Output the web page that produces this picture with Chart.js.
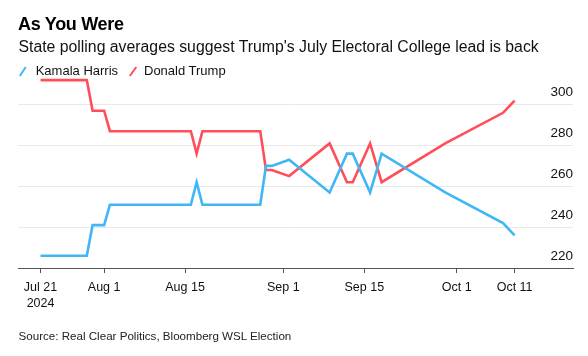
<!DOCTYPE html>
<html><head><meta charset="utf-8">
<script src="https://cdn.jsdelivr.net/npm/chart.js@4.4.1/dist/chart.umd.min.js"></script>
<style>
html,body{margin:0;padding:0;background:#fff;}
body{width:588px;height:356px;position:relative;overflow:hidden;font-family:"Liberation Sans",Arial,sans-serif;color:#111;}
.t{position:absolute;white-space:nowrap;line-height:1;}
#title{left:18px;top:14.8px;font-weight:bold;font-size:18px;letter-spacing:-0.3px;color:#000;}
#subtitle{left:18.5px;top:38.9px;font-size:15.8px;}
.lg{top:64px;font-size:13px;}
#source{left:18.5px;top:330px;font-size:11.6px;color:#222;}
svg.sw{position:absolute;top:66px;}
canvas{position:absolute;left:0;top:0;}
</style>
</head><body>
<canvas id="c" width="588" height="356"></canvas>
<div class="t" id="title">As You Were</div>
<div class="t" id="subtitle">State polling averages suggest Trump's July Electoral College lead is back</div>
<svg class="sw" style="left:19px" width="8" height="11"><line x1="0.8" y1="10" x2="6.8" y2="1" stroke="#41b6f6" stroke-width="2"/></svg>
<div class="t lg" style="left:35.7px">Kamala Harris</div>
<svg class="sw" style="left:128.5px" width="9" height="11"><line x1="0.8" y1="10" x2="7.3" y2="1" stroke="#ff4d5a" stroke-width="2"/></svg>
<div class="t lg" style="left:144px">Donald Trump</div>
<div class="t" id="source">Source: Real Clear Politics, Bloomberg WSL Election</div>
<script>
// days since Jul 21, 2024
const days   = [0, 8, 9, 11, 12, 26, 27, 28, 38, 39, 40, 43, 50, 53, 54, 57, 59, 70, 80, 82];
const harris = [226, 226, 241, 241, 251, 251, 262, 251, 251, 270, 270, 273, 257, 276, 276, 257, 276, 257, 242, 236];
const trump  = [312, 312, 297, 297, 287, 287, 276, 287, 287, 268, 268, 265, 281, 262, 262, 281, 262, 281, 296, 302];
const xTickDays   = [0, 11, 25, 42, 56, 72, 82];
const xTickLabels = [["Jul 21", "2024"], "Aug 1", "Aug 15", "Sep 1", "Sep 15", "Oct 1", "Oct 11"];
const yTicks = [220, 240, 260, 280, 300];

const BLUE = '#41b6f6', RED = '#ff4d5a';
const toPts = arr => days.map((d, i) => ({x: d, y: arr[i]}));

new Chart(document.getElementById('c'), {
  type: 'line',
  data: {
    datasets: [
      {label: 'Kamala Harris', data: toPts(harris), borderColor: BLUE, borderWidth: 2.6, pointRadius: 0, tension: 0, fill: false},
      {label: 'Donald Trump', data: toPts(trump), borderColor: RED, borderWidth: 2.6, pointRadius: 0, tension: 0, fill: false}
    ]
  },
  options: {
    responsive: false,
    animation: false,
    events: [],
    layout: {padding: {top: 74, left: 18, right: 15, bottom: 0}},
    plugins: {legend: {display: false}, tooltip: {enabled: false}, title: {display: false}},
    scales: {
      x: {
        type: 'linear', position: 'bottom', min: -3.9, max: 92.1,
        afterBuildTicks: s => { s.ticks = xTickDays.map(v => ({value: v})); },
        afterFit: s => { s.height = 88; },
        grid: {display: true, drawOnChartArea: false, drawTicks: true, tickLength: 5, color: '#555', lineWidth: 1},
        border: {display: true, color: '#555', width: 1},
        ticks: {
          autoSkip: false, maxRotation: 0, padding: 6, color: '#111',
          font: {family: '"Liberation Sans", Arial, sans-serif', size: 12.5, lineHeight: 1.3},
          callback: v => xTickLabels[xTickDays.indexOf(v)]
        }
      },
      y: {
        type: 'linear', position: 'right', min: 220, max: 315,
        afterBuildTicks: s => { s.ticks = yTicks.map(v => ({value: v})); },
        afterFit: s => { s.width = 0; },
        grid: {color: '#e9e9e9', lineWidth: 1, drawTicks: false},
        border: {display: false},
        ticks: {
          mirror: true, padding: 0, labelOffset: -12, color: '#111',
          font: {family: '"Liberation Sans", Arial, sans-serif', size: 13.5}
        }
      }
    }
  }
});
</script>
</body></html>
